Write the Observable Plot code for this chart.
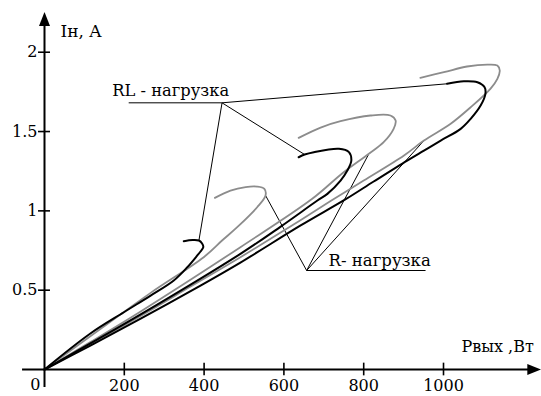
<!DOCTYPE html>
<html><head><meta charset="utf-8">
<script src="https://cdn.jsdelivr.net/npm/d3@7"></script>
<script src="https://cdn.jsdelivr.net/npm/@observablehq/plot@0.6"></script>
<style>body{margin:0;background:#fff} svg{display:block}</style>
</head><body><div id="chart"></div>
<script>
// Axis ticks
const xTicks = [200, 400, 600, 800, 1000];
const yTicks = [0.5, 1, 1.5, 2];
const xTitle = "Рвых ,Вт";
const yTitle = "Iн, A";

// RL-load curves (black)
const rl1P = [349, 371, 387, 395, 398, 391, 383, 358, 324, 266, 199, 115, 0];
const rl1I = [0.809, 0.816, 0.813, 0.794, 0.771, 0.744, 0.719, 0.645, 0.561, 0.466, 0.361, 0.227, 0];
const rl2P = [637, 652, 675, 738, 763, 769, 759, 742, 709, 684, 592, 491, 241, 115, 0];
const rl2I = [1.338, 1.355, 1.370, 1.391, 1.370, 1.317, 1.254, 1.191, 1.107, 1.065, 0.901, 0.729, 0.347, 0.164, 0];
const rl3P = [1009, 1051, 1085, 1103, 1105, 1093, 1068, 1043, 993, 951, 909, 825, 754, 642, 491, 391, 241, 115, 0];
const rl3I = [1.801, 1.817, 1.811, 1.779, 1.738, 1.664, 1.580, 1.517, 1.443, 1.380, 1.317, 1.185, 1.072, 0.908, 0.674, 0.529, 0.320, 0.151, 0];

// R-load curves (grey)
const r1P = [427, 466, 504, 533, 551, 554, 533, 483, 445, 399, 266, 140, 0];
const r1I = [1.082, 1.128, 1.150, 1.153, 1.139, 1.097, 1.023, 0.897, 0.813, 0.708, 0.483, 0.255, 0];
const r2P = [637, 692, 742, 817, 867, 880, 875, 850, 813, 749, 671, 491, 241, 115, 0];
const r2I = [1.460, 1.525, 1.565, 1.601, 1.601, 1.569, 1.517, 1.433, 1.360, 1.242, 1.076, 0.771, 0.366, 0.173, 0];
const r3P = [942, 1001, 1059, 1110, 1135, 1141, 1135, 1118, 1068, 1018, 951, 901, 800, 717, 604, 491, 366, 241, 115, 0];
const r3I = [1.839, 1.874, 1.910, 1.922, 1.916, 1.885, 1.832, 1.771, 1.653, 1.549, 1.443, 1.349, 1.191, 1.062, 0.882, 0.708, 0.523, 0.338, 0.160, 0];

// Annotations
const rlLabel = "RL - нагрузка";
const rLabel = "R- нагрузка";
const rlLabelPos = [170, 1.755];
const rLabelPos = [712, 0.683];
const rlJunction = [445, 1.681];
const rlUnderlineStart = 211;
const rJunction = [657, 0.624];
const rUnderlineEnd = 955;
const rlTargets = [["rl3", 0], ["rl2", 1], ["rl1", 2]];
const rTargets = [["r1", 5], ["r2", 8], ["r3", 10]];
const xTitlePos = [1045, 0.141];
const yTitlePos = [40, 2.133];

const series = {
  rl1: [rl1P, rl1I], rl2: [rl2P, rl2I], rl3: [rl3P, rl3I],
  r1: [r1P, r1I], r2: [r2P, r2I], r3: [r3P, r3I]
};
const rows = [];
for (const [k, [P, I]] of Object.entries(series)) P.forEach((p, i) => rows.push({s: k, P: p, I: I[i], rl: k.startsWith("rl")}));
const blackRows = rows.filter(d => d.rl);
const greyRows = rows.filter(d => !d.rl);
const pt = ([k, i]) => ({x: series[k][0][i], y: series[k][1][i]});
const links = [
  ...rlTargets.map(t => ({x1: rlJunction[0], y1: rlJunction[1], x2: pt(t).x, y2: pt(t).y})),
  {x1: rlUnderlineStart, y1: rlJunction[1], x2: rlJunction[0], y2: rlJunction[1]},
  ...rTargets.map(t => ({x1: rJunction[0], y1: rJunction[1], x2: pt(t).x, y2: pt(t).y})),
  {x1: rJunction[0], y1: rJunction[1], x2: rUnderlineEnd, y2: rJunction[1]}
];

const xMax = 1245.6, yMax = 2.263;
const arrowSym = {draw(ctx, size) { const k = Math.sqrt(size) / 10; ctx.moveTo(0, -14 * k); ctx.lineTo(5.5 * k, 0); ctx.lineTo(-5.5 * k, 0); ctx.closePath(); }};
const font = "DejaVu Serif";

const chart = Plot.plot({
  width: 541, height: 396,
  marginLeft: 44, marginRight: 0, marginTop: 10, marginBottom: 27,
  x: {domain: [0, xMax], axis: null},
  y: {domain: [0, yMax], axis: null},
  style: {fontFamily: font, background: "white", color: "black"},
  marks: [
    Plot.link(links, {x1: "x1", y1: "y1", x2: "x2", y2: "y2", stroke: "black", strokeWidth: 1}),
    Plot.line(greyRows, {x: "P", y: "I", z: "s", stroke: "#8c8c8c", strokeWidth: 1.8, curve: "catmull-rom"}),
    Plot.line(blackRows, {x: "P", y: "I", z: "s", stroke: "black", strokeWidth: 2, curve: "catmull-rom"}),
    Plot.ruleY([0], {x1: -55, x2: 1213, stroke: "black", strokeWidth: 2}),
    Plot.ruleX([0], {y1: -0.114, y2: 2.17, stroke: "black", strokeWidth: 2}),
    Plot.dot([{x: 1210, y: 0}], {x: "x", y: "y", symbol: arrowSym, r: 10 / Math.sqrt(Math.PI), fill: "black", stroke: "none", rotate: 90}),
    Plot.dot([{x: 0, y: 2.166}], {x: "x", y: "y", symbol: arrowSym, r: 10 / Math.sqrt(Math.PI), fill: "black", stroke: "none"}),
    Plot.ruleX(xTicks, {y1: -0.04, y2: 0.04, stroke: "black", strokeWidth: 1.6}),
    Plot.ruleY(yTicks, {x1: -15, x2: 15, stroke: "black", strokeWidth: 1.6}),
    Plot.text(xTicks, {x: d => d, y: 0, text: d => String(d), dy: 16.5, fontSize: 16, fontFamily: font}),
    Plot.text(yTicks, {x: 0, y: d => d, text: d => String(d), textAnchor: "end", dx: -7, fontSize: 16, fontFamily: font}),
    Plot.text([0], {x: 0, y: 0, text: d => String(d), textAnchor: "end", dx: -4, dy: 15.5, fontSize: 16, fontFamily: font}),
    Plot.text([yTitle], {x: yTitlePos[0], y: yTitlePos[1], text: d => d, textAnchor: "start", fontSize: 17, fontFamily: font}),
    Plot.text([xTitle], {x: xTitlePos[0], y: xTitlePos[1], text: d => d, textAnchor: "start", fontSize: 16, fontFamily: font}),
    Plot.text([rlLabel], {x: rlLabelPos[0], y: rlLabelPos[1], text: d => d, textAnchor: "start", fontSize: 16.3, fontFamily: font}),
    Plot.text([rLabel], {x: rLabelPos[0], y: rLabelPos[1], text: d => d, textAnchor: "start", fontSize: 16.5, fontFamily: font})
  ]
});
document.getElementById("chart").appendChild(chart);
</script>
</body></html>
